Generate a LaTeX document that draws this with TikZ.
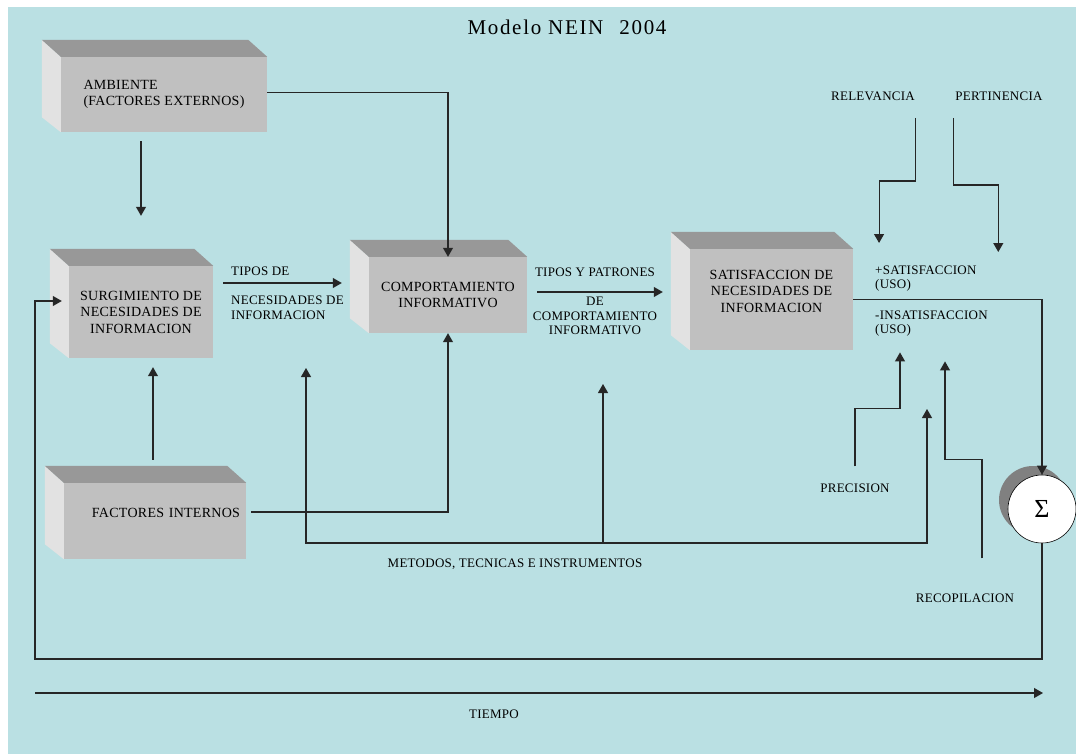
\documentclass[tikz,border=0pt]{standalone}
\usepackage{fontspec}
\setmainfont{Liberation Serif}
\newfontfamily\capsfont[LetterSpace=2]{Liberation Serif}
\newfontfamily\titlefont[LetterSpace=8]{Liberation Serif}
\usepackage{xcolor}
\usetikzlibrary{arrows.meta,shadows}
\definecolor{bgblue}{RGB}{186,224,227}
\definecolor{frontgray}{RGB}{192,192,192}
\definecolor{topgray}{RGB}{152,152,152}
\definecolor{sidegray}{RGB}{226,226,226}
\newcommand\boxfont{\capsfont\fontsize{14}{16.5}\selectfont}
\newcommand\lblfont{\capsfont\fontsize{13}{14.5}\selectfont}

\begin{document}
\begin{tikzpicture}[x=1pt, y=-1pt,
    front/.style = {fill=frontgray, inner sep=0pt, align=center, font=\boxfont},
    lbl/.style = {inner sep=0pt, align=left, font=\lblfont},
    conn/.style = {-{Triangle[length=9pt,width=10pt]}, line width=1.1pt, draw=black!85},
    sigma/.style = {circle, draw, line width=0.6pt, fill=white, minimum size=68pt, inner sep=0pt,
                    drop shadow={shadow xshift=-9pt, shadow yshift=9pt, fill=black!50, opacity=1}}]
  \useasboundingbox (0,0) rectangle (1076,754);
  \fill[bgblue] (8,7) rectangle (1076,754);

  \node[font=\titlefont\fontsize{21}{21}\selectfont] (title) at (567,27) {Modelo NEIN\hspace{16pt}2004};

  \node[front, minimum width=206pt, minimum height=75pt, align=left] (amb) at (164,94.5) {AMBIENTE\\(FACTORES EXTERNOS)};
  \node[front, minimum width=144pt, minimum height=92pt] (surg) at (141,312) {SURGIMIENTO DE\\NECESIDADES DE\\INFORMACION};
  \node[front, minimum width=158pt, minimum height=76pt] (comp) at (448,295) {COMPORTAMIENTO\\INFORMATIVO};
  \node[front, minimum width=163pt, minimum height=101pt] (sat) at (771.5,299.5) {SATISFACCION DE\\NECESIDADES DE\\INFORMACION\\\mbox{}};
  \node[front, minimum width=182pt, minimum height=76pt, text width=170pt, inner xsep=6pt, align=right] (fint) at (155,521) {FACTORES INTERNOS\\\mbox{}};
  \node[sigma, font=\fontsize{26}{26}\selectfont] (sig) at (1042,509) {Σ};

  \foreach \n in {amb,surg,comp,sat,fint}{
    \fill[sidegray] (\n.north west) -- ++(-19,-17) -- ([shift={(-19,-15)}]\n.south west) -- (\n.south west) -- cycle;
    \fill[topgray] (\n.north west) -- ++(-19,-17) -- ([shift={(-19,-17)}]\n.north east) -- (\n.north east) -- cycle;
  }

  \node[lbl, anchor=west] (tipos1) at (231,271) {TIPOS DE};
  \node[lbl, anchor=west] (tipos2) at (231,308) {NECESIDADES DE\\INFORMACION};
  \node[lbl] (patr1) at (595,272) {TIPOS Y PATRONES};
  \node[lbl, align=center] (patr2) at (595,316) {DE\\COMPORTAMIENTO\\INFORMATIVO};
  \node[lbl, anchor=west] (plus) at (875,278.5) {+SATISFACCION\\(USO)};
  \node[lbl, anchor=west] (minus) at (875,323.5) {-INSATISFACCION\\(USO)};
  \node[lbl] (rel) at (873,96) {RELEVANCIA};
  \node[lbl] (pert) at (999,96) {PERTINENCIA};
  \node[lbl] (prec) at (855,488) {PRECISION};
  \node[lbl] (recop) at (965,598) {RECOPILACION};
  \node[lbl] (metodos) at (515,564) {METODOS, TECNICAS E INSTRUMENTOS};
  \node[lbl] (tiempo) at (494,714) {TIEMPO};

  \coordinate (ta) at ([yshift=29pt]surg.east);
  \coordinate (pa) at ([yshift=3pt]comp.east);
  \coordinate (fu) at ([xshift=-2pt]fint.north);
  \coordinate (loopL) at (35,659);
  \coordinate (mA) at (306,368);
  \coordinate (mB) at (927,409);
  \coordinate (mC) at (603,384);
  \coordinate (mbase) at (927,543);
  \coordinate (t0) at (35,693);
  \coordinate (t1) at (1043,693);

  \draw[conn] ([yshift=2pt]amb.east) -| (comp.north);
  \draw[conn, shorten <=9pt, shorten >=50pt] (amb.south -| surg.north) -- (surg.north);
  \draw[conn, shorten <=10pt, shorten >=27pt] (ta) -- (ta -| comp.west);
  \draw[conn, shorten <=10pt, shorten >=27pt] (pa) -- (pa -| sat.west);
  \draw[conn] (sat.east) -| (sig.north);
  \draw[conn] (sig.south) |- (loopL) |- ([xshift=-7pt,yshift=11pt]surg.west);
  \draw[conn, shorten <=5pt] ([yshift=9pt]fint.east) -| (comp.south);
  \draw[conn, shorten <=23pt, shorten >=9pt] (fu) -- (fu |- surg.south);
  \draw[conn, {Triangle[length=9pt,width=10pt]}-{Triangle[length=9pt,width=10pt]}] (mA) |- (mbase) -- (mB);
  \draw[conn] (mC |- mbase) -- (mC);
  \draw[conn] ([yshift=-22pt]rel.east) |- ++(-36,63) -- ++(0,62);
  \draw[conn] ([xshift=-2pt,yshift=-22pt]pert.west) |- ++(45,67) -- ++(0,67);
  \draw[conn] ([yshift=17pt]prec.north) |- ++(45,-58) -- ++(0,-56);
  \draw[conn] ([xshift=17pt,yshift=35pt]recop.north) |- ++(-37,-99) -- ++(0,-98);
  \draw[conn] (t0) -- (t1);
\end{tikzpicture}
\end{document}
